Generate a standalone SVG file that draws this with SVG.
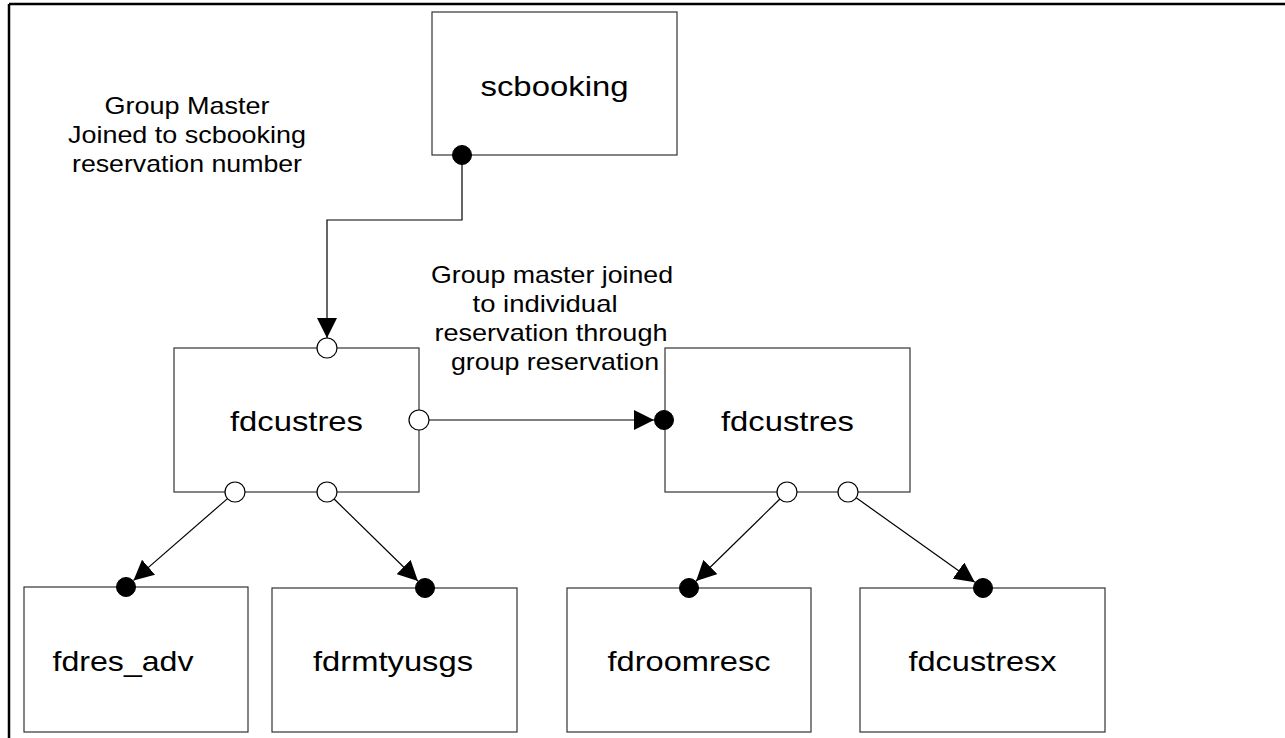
<svg xmlns="http://www.w3.org/2000/svg" width="1285" height="738" viewBox="0 0 1285 738">
<style>
.box{fill:#fff;stroke:#333;stroke-width:1.2}
.nt{font-family:"Liberation Sans",Arial,sans-serif;font-size:28px;fill:#000;text-anchor:middle}
.lb{font-family:"Liberation Sans",Arial,sans-serif;font-size:24px;fill:#000;text-anchor:middle}
.ln{fill:none;stroke:#000;stroke-width:1.2}
.open{fill:#fff;stroke:#000;stroke-width:1.2}
.fill{fill:#000;stroke:#000;stroke-width:1}
</style>
<defs>
<marker id="arr" markerUnits="userSpaceOnUse" markerWidth="20" markerHeight="20" refX="20" refY="10" orient="auto" viewBox="0 0 20 20">
<path d="M0,0 L20,10 L0,20 Z" fill="#000"/>
</marker>
</defs>
<rect x="0" y="0" width="1285" height="738" fill="#fff"/>
<g id="frame">
<line x1="9" y1="4" x2="1285" y2="4" stroke="#000" stroke-width="2.5"/>
<line x1="9" y1="4" x2="9" y2="738" stroke="#000" stroke-width="2.5"/>
</g>
<g id="labels">
<text class="lb" x="187" y="114" textLength="165" lengthAdjust="spacingAndGlyphs">Group Master</text>
<text class="lb" x="187" y="143" textLength="238" lengthAdjust="spacingAndGlyphs">Joined to scbooking</text>
<text class="lb" x="187" y="172" textLength="230" lengthAdjust="spacingAndGlyphs">reservation number</text>
<text class="lb" x="552" y="283" textLength="242" lengthAdjust="spacingAndGlyphs">Group master joined</text>
<text class="lb" x="545" y="312" textLength="145" lengthAdjust="spacingAndGlyphs">to individual</text>
<text class="lb" x="551" y="341" textLength="233" lengthAdjust="spacingAndGlyphs">reservation through</text>
<text class="lb" x="555" y="370" textLength="208" lengthAdjust="spacingAndGlyphs">group reservation</text>
</g>
<g id="n_scbooking"><rect class="box" x="432" y="12" width="245" height="143"/><text class="nt" x="554.5" y="96" textLength="148" lengthAdjust="spacingAndGlyphs">scbooking</text></g>
<g id="n_fdcustres1"><rect class="box" x="174" y="348" width="245" height="144"/><text class="nt" x="296.5" y="431" textLength="133" lengthAdjust="spacingAndGlyphs">fdcustres</text></g>
<g id="n_fdcustres2"><rect class="box" x="665" y="348" width="245" height="144"/><text class="nt" x="787.5" y="431" textLength="133" lengthAdjust="spacingAndGlyphs">fdcustres</text></g>
<g id="n_fdres_adv"><rect class="box" x="24" y="587" width="224" height="145"/><text class="nt" x="123" y="671" textLength="141" lengthAdjust="spacingAndGlyphs">fdres_adv</text></g>
<g id="n_fdrmtyusgs"><rect class="box" x="272" y="588" width="245" height="144"/><text class="nt" x="393" y="671" textLength="160" lengthAdjust="spacingAndGlyphs">fdrmtyusgs</text></g>
<g id="n_fdroomresc"><rect class="box" x="567" y="588" width="244" height="144"/><text class="nt" x="689" y="671" textLength="163" lengthAdjust="spacingAndGlyphs">fdroomresc</text></g>
<g id="n_fdcustresx"><rect class="box" x="860" y="588" width="245" height="144"/><text class="nt" x="982.5" y="671" textLength="148" lengthAdjust="spacingAndGlyphs">fdcustresx</text></g>
<g id="connectors">
<polyline class="ln" points="462,155 462,220 327,220 327,338" marker-end="url(#arr)"/>
<line class="ln" x1="429" y1="420" x2="654" y2="420" marker-end="url(#arr)"/>
<line class="ln" x1="227.5" y1="498.6" x2="133.5" y2="580.4" marker-end="url(#arr)"/>
<line class="ln" x1="334.1" y1="499" x2="417.9" y2="581" marker-end="url(#arr)"/>
<line class="ln" x1="779.9" y1="499" x2="696.1" y2="581" marker-end="url(#arr)"/>
<line class="ln" x1="856.2" y1="497.8" x2="974.8" y2="582.2" marker-end="url(#arr)"/>
<circle class="fill" cx="462" cy="155" r="9.5"/>
<circle class="open" cx="327" cy="348" r="10"/>
<circle class="open" cx="419" cy="420" r="10"/>
<circle class="fill" cx="664" cy="420" r="9.5"/>
<circle class="open" cx="235" cy="492" r="10"/>
<circle class="open" cx="327" cy="492" r="10"/>
<circle class="fill" cx="126" cy="587" r="9.5"/>
<circle class="fill" cx="425" cy="588" r="9.5"/>
<circle class="open" cx="787" cy="492" r="10"/>
<circle class="open" cx="848" cy="492" r="10"/>
<circle class="fill" cx="689" cy="588" r="9.5"/>
<circle class="fill" cx="983" cy="588" r="9.5"/>
</g>
</svg>
